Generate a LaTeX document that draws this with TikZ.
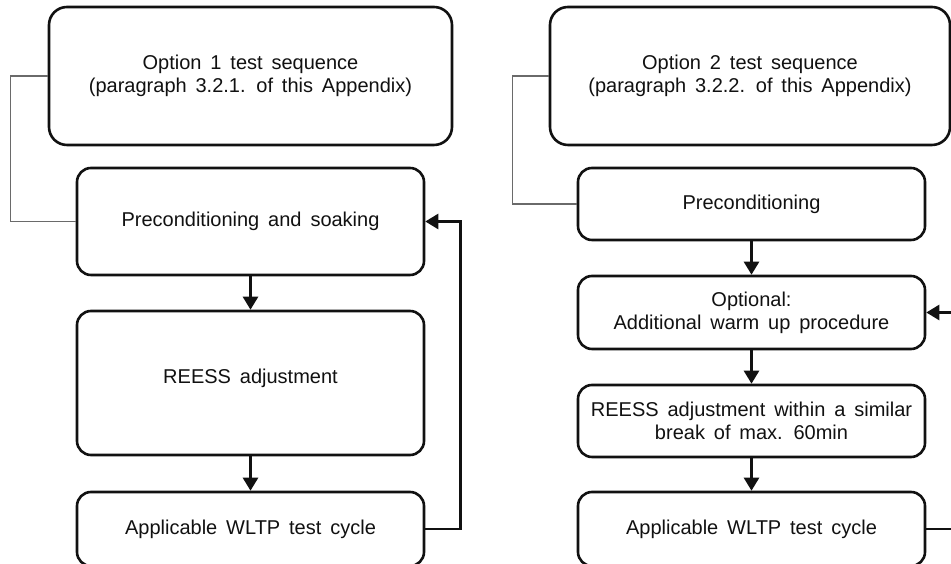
\documentclass[tikz,border=0pt]{standalone}
\usepackage{fontspec}
\setmainfont{Liberation Sans}[WordSpace=1.6]
\usepackage{tikz}
\usetikzlibrary{positioning,arrows.meta,calc}
\definecolor{ink}     {HTML}{111111}
\definecolor{softink} {HTML}{6A6A6A}
\tikzset{
  every node/.style={font=\fontsize{20}{23}\selectfont, text=ink},
  % --- nodes
  stage/.style  = {draw=ink, line width=2.6pt, rounded corners=14pt, fill=white,
                   align=center, inner sep=0pt, minimum width=347pt},
  option/.style = {stage, rounded corners=18pt, minimum height=138pt},
  % --- edges
  flow/.style   = {-{Triangle[length=13pt,width=15pt]}, line width=2.6pt, draw=ink},
  back/.style   = {flow},
  link/.style   = {line width=1.2pt, draw=softink},
}
\begin{document}
\begin{tikzpicture}[x=1pt,y=1pt]
  \useasboundingbox (0,0) rectangle (951,564);

  % option 1
  \node[option, minimum width=403pt] (optA) at (250.5,488)
    {Option 1 test sequence\\(paragraph 3.2.1. of this Appendix)};
  \node[stage, minimum height=107pt] (prepA) at (250.5,342.5) {Preconditioning and soaking};
  \node[stage, minimum height=144pt] (adjA)  at (250.5,181) {\raisebox{14pt}{REESS adjustment}};
  \node[stage, minimum height=74pt]  (cycA)  at (250.5,35) {Applicable WLTP test cycle};

  \draw[link] (optA.west) -- ++(-37,0) |- (prepA.west);
  \draw[flow] (prepA) -- (adjA);
  \draw[flow] (adjA) -- (cycA);
  \draw[back] (cycA.east) -- ++(35,0) |- (prepA.east);

  % option 2
  \node[option, minimum width=400pt] (optB) at (750,488)
    {Option 2 test sequence\\(paragraph 3.2.2. of this Appendix)};
  \node[stage, minimum height=72pt] (prepB) at (751.5,360) {Preconditioning};
  \node[stage, minimum height=73pt] (warmB) at (751.5,251.5)
    {Optional:\\Additional warm up procedure};
  \node[stage, minimum height=72pt] (adjB)  at (751.5,143)
    {REESS adjustment within a similar\\break of max. 60min};
  \node[stage, minimum height=74pt] (cycB)  at (751.5,35) {Applicable WLTP test cycle};

  \draw[link] (optB.west) -- ++(-36,0) |- (prepB.west);
  \draw[flow] (prepB) -- (warmB);
  \draw[flow] (warmB) -- (adjB);
  \draw[flow] (adjB) -- (cycB);
  \draw[back] (cycB.east) -- ++(35,0) |- (warmB.east);
\end{tikzpicture}
\end{document}
